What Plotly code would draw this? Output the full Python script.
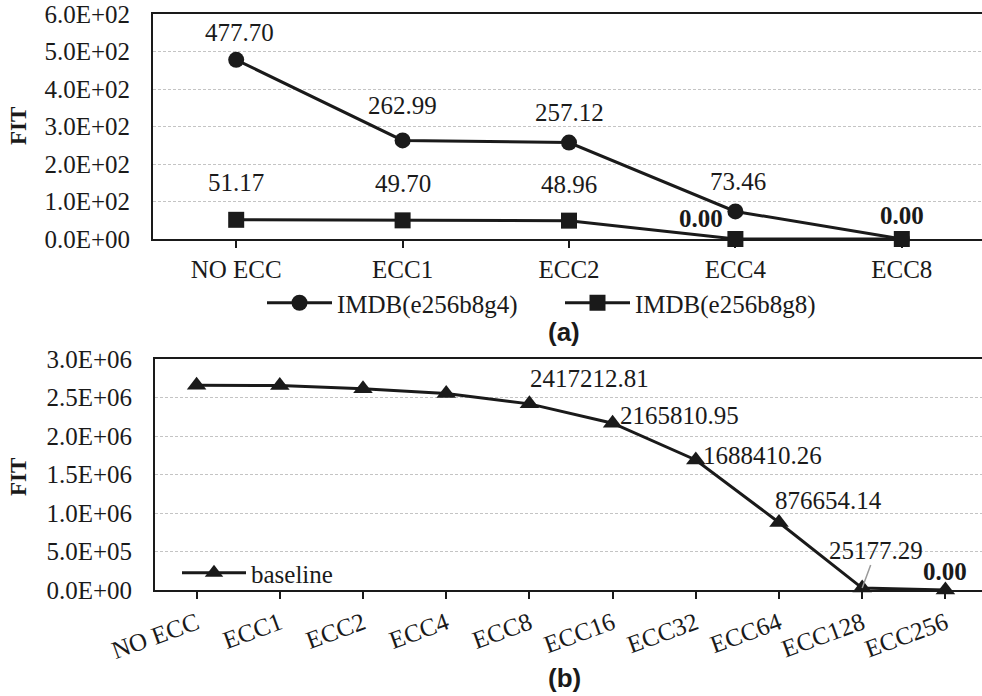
import plotly.graph_objects as go

# ---------------- data ----------------
cats_a = ["NO ECC", "ECC1", "ECC2", "ECC4", "ECC8"]
imdb_g4 = [477.70, 262.99, 257.12, 73.46, 0.00]
imdb_g8 = [51.17, 49.70, 48.96, 0.00, 0.00]
yticks_a = [0, 100, 200, 300, 400, 500, 600]
yticktext_a = ["0.0E+00", "1.0E+02", "2.0E+02", "3.0E+02", "4.0E+02", "5.0E+02", "6.0E+02"]

cats_b = ["NO ECC", "ECC1", "ECC2", "ECC4", "ECC8", "ECC16", "ECC32", "ECC64", "ECC128", "ECC256"]
baseline = [2660000, 2656000, 2615000, 2552000, 2417212.81, 2165810.95, 1688410.26, 876654.14, 25177.29, 0.00]
yticks_b = [0, 500000, 1000000, 1500000, 2000000, 2500000, 3000000]
yticktext_b = ["0.0E+00", "5.0E+05", "1.0E+06", "1.5E+06", "2.0E+06", "2.5E+06", "3.0E+06"]

SERIF = "Liberation Serif, serif"
SANS = "Liberation Sans, Arial, sans-serif"
INK = "#1a1a1a"
FS = 25

W, H = 982, 696


def px(sx):
    return sx / W


def py(sy):
    return 1 - sy / H


fig = go.Figure()

fig.add_trace(go.Scatter(x=cats_a, y=imdb_g4, mode="lines+markers", name="IMDB(e256b8g4)",
                         line=dict(color=INK, width=3), marker=dict(symbol="circle", size=16, color=INK),
                         cliponaxis=False, xaxis="x", yaxis="y", legend="legend"))
fig.add_trace(go.Scatter(x=cats_a, y=imdb_g8, mode="lines+markers", name="IMDB(e256b8g8)",
                         line=dict(color=INK, width=3), marker=dict(symbol="square", size=16, color=INK),
                         cliponaxis=False, xaxis="x", yaxis="y", legend="legend"))
fig.add_trace(go.Scatter(x=cats_b, y=baseline, mode="lines+markers", name="baseline",
                         line=dict(color=INK, width=3), marker=dict(symbol="triangle-up", size=17, color=INK),
                         cliponaxis=False, xaxis="x2", yaxis="y2", legend="legend2"))

top_a, bot_a = 14, 239
top_b, bot_b = 359, 590
left_a, left_b = 153, 155

axis_common = dict(showline=True, linecolor=INK, linewidth=2, automargin=False,
                   tickfont=dict(family=SERIF, size=FS, color=INK))

fig.update_layout(
    width=W, height=H,
    margin=dict(l=0, r=0, t=0, b=0),
    paper_bgcolor="white", plot_bgcolor="white",
    xaxis=dict(domain=[px(left_a), 1], anchor="y", type="category",
               range=[-0.5, -0.5 + (W - left_a) / 166.4], mirror=True,
               ticks="outside", ticklen=7, tickwidth=1.5, tickcolor=INK, showgrid=False,
               **axis_common),
    yaxis=dict(domain=[py(bot_a), py(top_a)], anchor="x", range=[0, 600],
               tickvals=yticks_a, ticktext=yticktext_a, ticks="", ticklabelstandoff=16,
               ticklabeloverflow="allow",
               showgrid=True, gridcolor="#c4c4c4", gridwidth=1, griddash="3px,2px", zeroline=False,
               **axis_common),
    xaxis2=dict(domain=[px(left_b), 1], anchor="y2", type="category",
                range=[-0.5, -0.5 + (W - left_b) / 83.2], mirror=True, tickangle=-20,
                ticks="outside", ticklen=7, tickwidth=1.5, tickcolor=INK, showgrid=False,
                **axis_common),
    yaxis2=dict(domain=[py(bot_b), py(top_b)], anchor="x2", range=[0, 3000000],
                tickvals=yticks_b, ticktext=yticktext_b, ticks="", ticklabelstandoff=16,
                showgrid=True, gridcolor="#c4c4c4", gridwidth=1, griddash="3px,2px", zeroline=False,
                **axis_common),
    legend=dict(orientation="h", x=px(262), xanchor="left", y=py(303), yanchor="middle",
                font=dict(family=SERIF, size=FS, color=INK), bgcolor="rgba(0,0,0,0)",
                entrywidth=218, entrywidthmode="pixels", itemwidth=65),
    legend2=dict(orientation="h", x=px(177), xanchor="left", y=py(573), yanchor="middle",
                 font=dict(family=SERIF, size=FS, color=INK), bgcolor="rgba(0,0,0,0)",
                 itemwidth=64),
    showlegend=True,
)

ann = []
# y-axis titles
for yc in (py(126), py(477)):
    ann.append(dict(xref="paper", yref="paper", x=px(19), y=yc, xanchor="center", yanchor="middle",
                    text="<b>FIT</b>", showarrow=False, textangle=-90,
                    font=dict(family=SERIF, size=23, color=INK)))
# panel labels
ann.append(dict(xref="paper", yref="paper", x=px(564), y=py(332), xanchor="center", yanchor="middle",
                text="<b>(a)</b>", showarrow=False, font=dict(family=SANS, size=26, color=INK)))
ann.append(dict(xref="paper", yref="paper", x=px(564), y=py(678), xanchor="center", yanchor="middle",
                text="<b>(b)</b>", showarrow=False, font=dict(family=SANS, size=26, color=INK)))

# top data labels
shifts_g4 = [(3, 27), (0, 35), (0, 30), (3, 30), (0, 23)]
for i, (c, v) in enumerate(zip(cats_a, imdb_g4)):
    if i == 4:
        continue
    txt = f"{v:.2f}"
    ann.append(dict(xref="x", yref="y", x=c, y=v, text=txt, showarrow=False,
                    xanchor="center", yanchor="middle",
                    xshift=shifts_g4[i][0], yshift=shifts_g4[i][1],
                    font=dict(family=SERIF, size=FS, color=INK)))
shifts_g8 = [(0, 37), (0, 37), (0, 36), (-34, 20), (0, 23)]
for i, (c, v) in enumerate(zip(cats_a, imdb_g8)):
    txt = f"{v:.2f}"
    if v == 0:
        txt = f"<b>{txt}</b>"
    ann.append(dict(xref="x", yref="y", x=c, y=v, text=txt, showarrow=False,
                    xanchor="center", yanchor="middle",
                    xshift=shifts_g8[i][0], yshift=shifts_g8[i][1],
                    font=dict(family=SERIF, size=FS, color=INK)))

# bottom data labels (ECC8 onwards)
label_pos_b = {4: ("left", -1, 25), 5: ("left", 5, 8), 6: ("left", 5, 4), 7: ("left", -6, 22), 9: ("center", 0, 19)}
for i, (xa, xs, ys) in label_pos_b.items():
    v = baseline[i]
    txt = f"{v:.2f}"
    if v == 0:
        txt = f"<b>{txt}</b>"
    ann.append(dict(xref="x2", yref="y2", x=cats_b[i], y=v, text=txt, showarrow=False,
                    xanchor=xa, yanchor="middle", xshift=xs, yshift=ys,
                    font=dict(family=SERIF, size=FS, color=INK)))
ann.append(dict(xref="x2", yref="y2", x=cats_b[8], y=baseline[8], text=f"{baseline[8]:.2f}",
                showarrow=True, arrowhead=0, arrowwidth=1.5, arrowcolor="#9a9a9a", ax=14, ay=-38,
                standoff=0, font=dict(family=SERIF, size=FS, color=INK)))

fig.update_layout(annotations=ann)
fig.write_html("out.html", config={"displayModeBar": False},
               post_script="document.body.style.margin='0px';")
